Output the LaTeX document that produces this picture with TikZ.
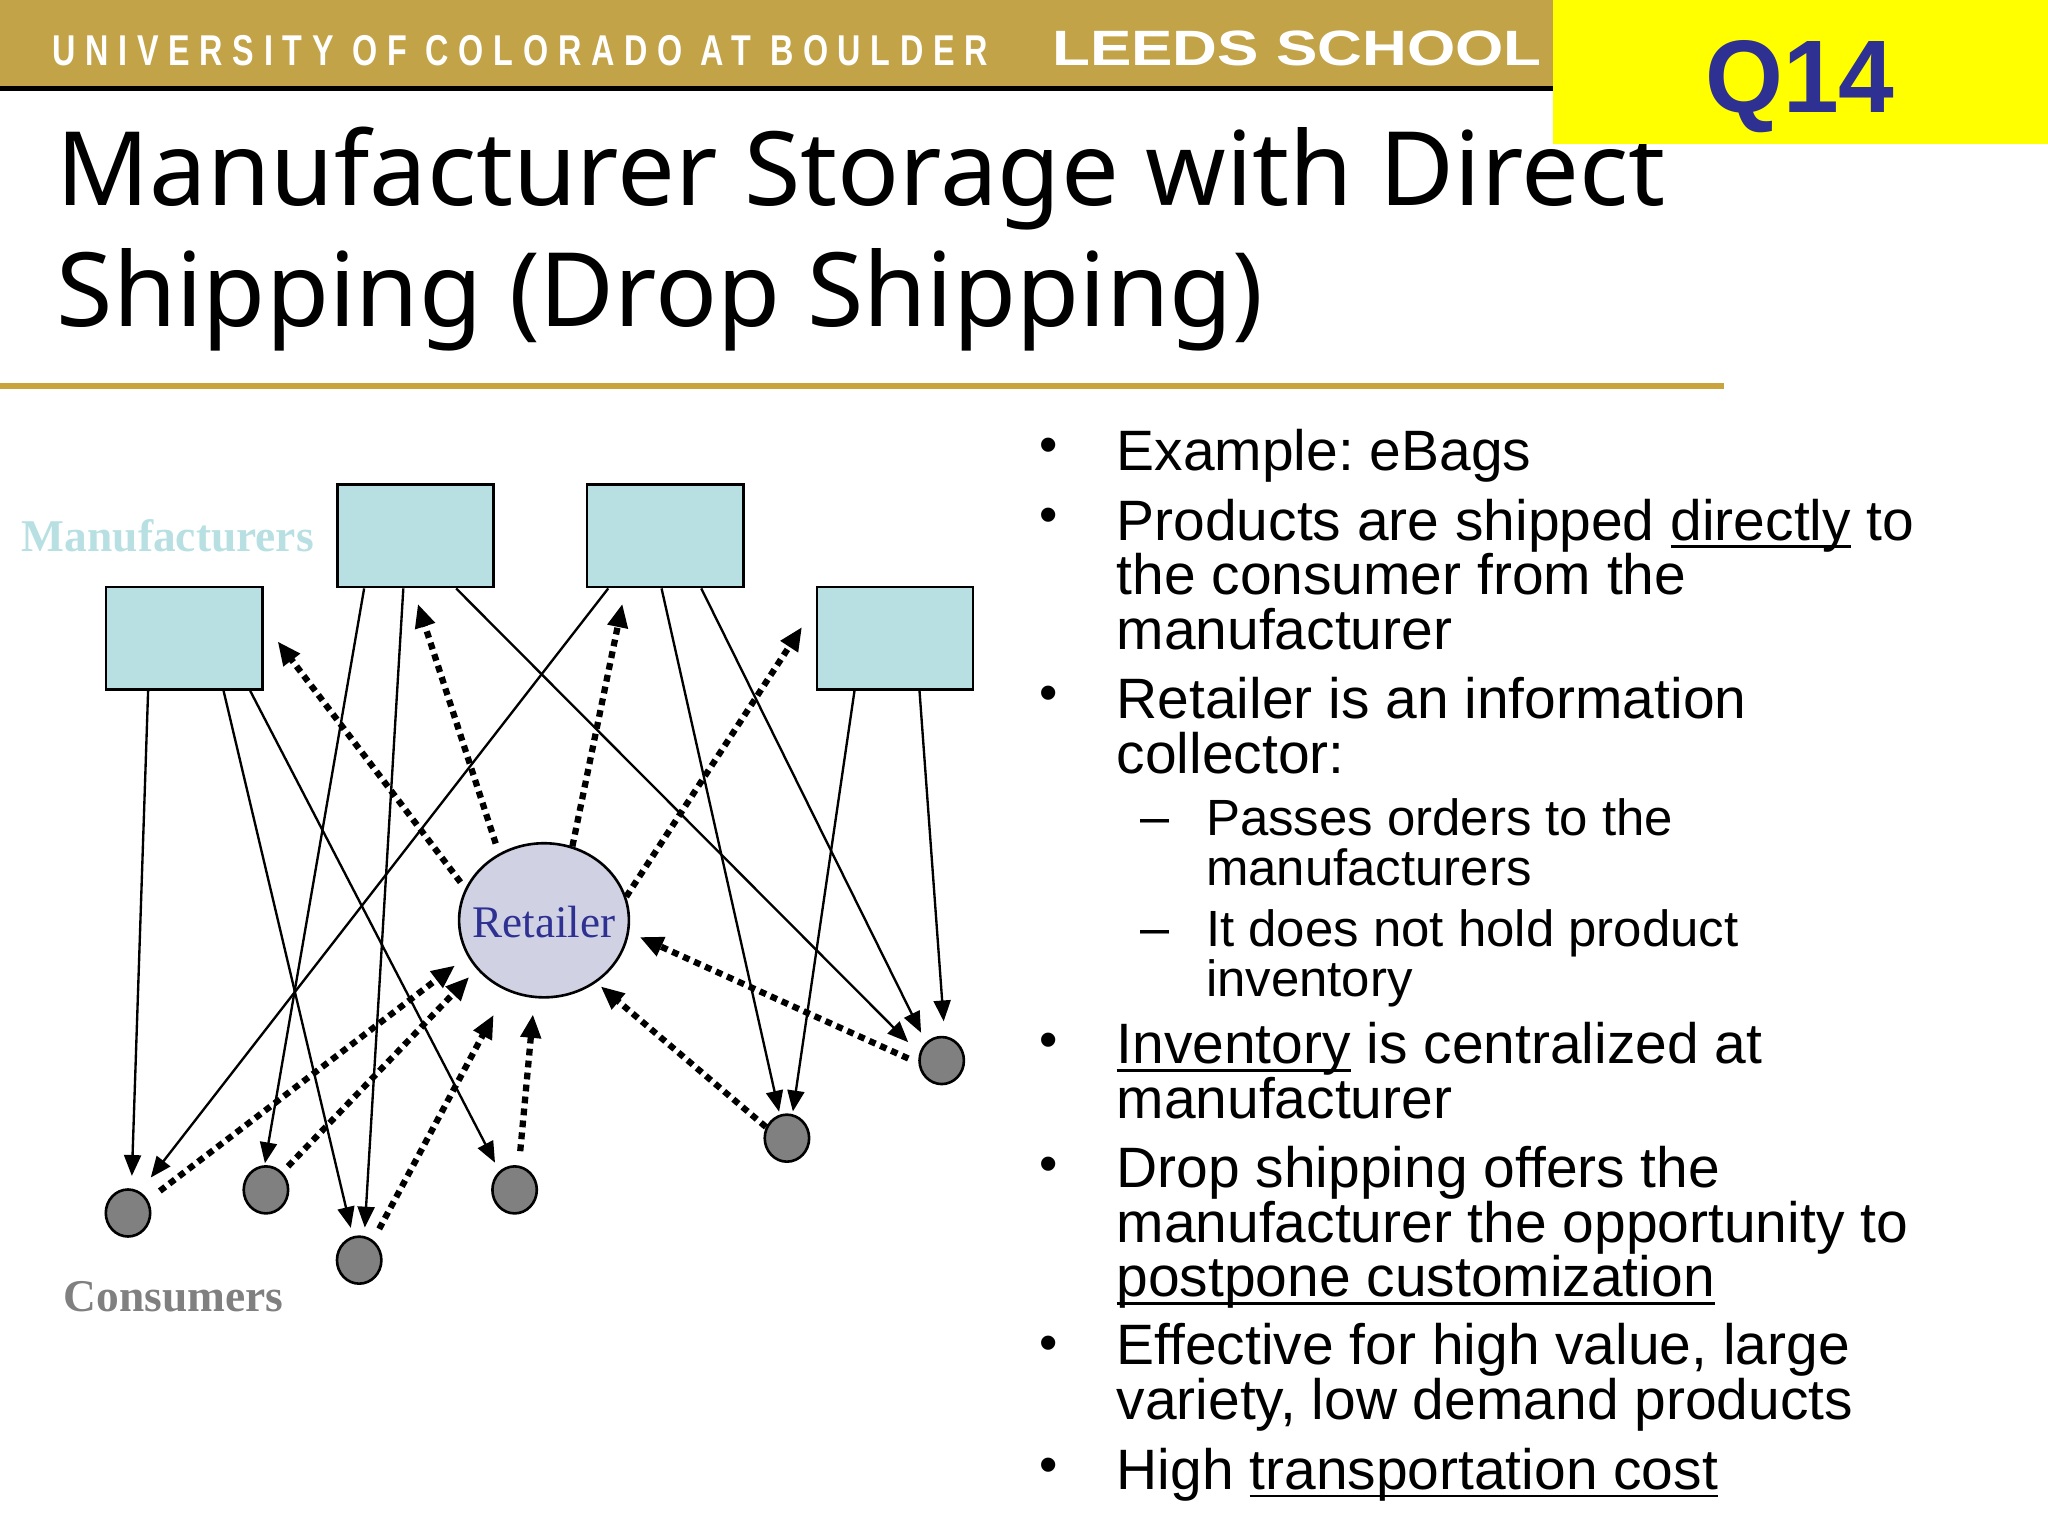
\documentclass[tikz,border=0pt]{standalone}
\usepackage{fontspec}
\setmainfont{Liberation Sans}
\newfontfamily\titlefont{Noto Sans}
\newfontfamily\labelfont{Liberation Serif}
\newfontfamily\bannerfont[LetterSpace=30]{Liberation Sans}
\usetikzlibrary{positioning, shapes.geometric, arrows.meta}
\frenchspacing

\definecolor{gold}{HTML}{C2A348}
\definecolor{rulegold}{HTML}{C9A43C}
\definecolor{mfrblue}{HTML}{B8E0E2}
\definecolor{retfill}{HTML}{D0D2E4}
\definecolor{inkblue}{HTML}{2E3192}
\definecolor{consgrey}{HTML}{808080}
\definecolor{tagyellow}{HTML}{FFFF00}

\newcommand{\ulword}[1]{\setbox0\hbox{#1}\rlap{\rule[-3pt]{\wd0}{1pt}}\box0\relax}
\newcommand{\bstrut}{\rule{0pt}{17pt}}
\newcommand{\cstrut}{\rule{0pt}{15pt}}

\tikzset{
	mfr/.style={draw, fill=mfrblue, line width=1pt, inner sep=0pt, minimum width=59.8pt, minimum height=39.3pt},
	cons/.style={draw, fill=consgrey, ellipse, line width=1pt, inner sep=0pt, minimum width=17pt, minimum height=18pt},
	flow/.style={-{Triangle[length=8pt,width=6.5pt]}, line width=0.9pt},
	info/.style={-{Triangle[length=9pt,width=7.5pt]}, line width=2.4pt, dash pattern=on 2.6pt off 2pt},
	bodytxt/.style={font=\fontsize{21.8}{21}\selectfont, align=left, anchor=north west, inner sep=0pt, execute at begin node=\bstrut},
	subtxt/.style={font=\fontsize{19.5}{19}\selectfont, align=left, anchor=north west, inner sep=0pt, execute at begin node=\cstrut},
	bulletmark/.style={font=\fontsize{20}{20}\selectfont, inner sep=0pt}
}

\begin{document}
\begin{tikzpicture}[x=0.5pt, y=-0.5pt]

	\useasboundingbox (0,0) rectangle (1568,1176);

	%% Header
	\fill[gold] (0,0) rectangle (1189,66);
	\fill[black] (0,66) rectangle (1189,70);
	\node[text=white, anchor=base west, inner sep=0pt, xscale=0.75, font=\bannerfont\bfseries\fontsize{16.5}{16}\selectfont] (univ) at (40,50) {UNIVERSITY OF COLORADO AT BOULDER};
	\node[text=white, anchor=base west, inner sep=0pt, xscale=1.25, font=\bfseries\fontsize{19}{19}\selectfont] (leeds) at (805,50) {LEEDS SCHOOL};

	%% Title
	\node[anchor=base west, inner sep=0pt, font=\titlefont\fontsize{39.3}{40}\selectfont] (title_1) at (43,157) {Manufacturer Storage with Direct};
	\node[anchor=base west, inner sep=0pt, font=\titlefont\fontsize{39.3}{40}\selectfont] (title_2) at (43,250) {Shipping (Drop Shipping)};
	\fill[rulegold] (0,293) rectangle (1320,298);

	\fill[tagyellow] (1189,0) rectangle (1568,110);
	\node[text=inkblue, inner sep=0pt, anchor=base, xscale=0.97, font=\bfseries\fontsize{39.5}{40}\selectfont] (q) at (1378,86) {Q14};

	%% Manufacturers
	\node[mfr] (m_1) at (141,488.7) {};
	\node[mfr] (m_2) at (318.2,410.2) {};
	\node[mfr] (m_3) at (509.3,410.2) {};
	\node[mfr] (m_4) at (685.2,488.7) {};
	\node[text=mfrblue, font=\labelfont\bfseries\fontsize{17.4}{17}\selectfont, inner sep=0pt] (m_lab) at (128.5,410) {Manufacturers};

	%% Retailer
	\node[draw, fill=retfill, ellipse, line width=1pt, inner sep=0pt, minimum width=65pt, minimum height=59pt, text=inkblue, font=\labelfont\fontsize{17.3}{17}\selectfont] (ret) at (416.5,704.6) {\raisebox{-6.7pt}[0pt][0pt]{\makebox[0pt]{Retailer}}};

	%% Consumers
	\node[cons] (c_1) at (98,928.7) {};
	\node[cons] (c_2) at (203.6,911) {};
	\node[cons] (c_3) at (275,964.8) {};
	\node[cons] (c_4) at (394,911) {};
	\node[cons] (c_5) at (602.5,871.4) {};
	\node[cons] (c_6) at (721,812) {};
	\node[text=consgrey, font=\labelfont\bfseries\fontsize{17.4}{17}\selectfont, inner sep=0pt] (c_lab) at (133,993) {Consumers};

	%% Product flow
	\draw[flow, shorten >=4.8pt] ([xshift=16.6pt]m_1.south west) -- (c_1.82);
	\draw[flow, shorten >=3.3pt] ([xshift=45.5pt]m_1.south west) -- (c_3.105);
	\draw[flow, shorten >=3.6pt] ([xshift=55.7pt]m_1.south west) -- (c_4.129);
	\draw[flow, shorten >=0.7pt] ([xshift=10.7pt]m_2.south west) -- (c_2.93);
	\draw[flow, shorten >=3.2pt] ([xshift=25.7pt]m_2.south west) -- (c_3.78);
	\draw[flow, shorten >=6pt] ([xshift=45.9pt]m_2.south west) -- (c_6.162);
	\draw[flow, shorten >=6.8pt] ([xshift=8.6pt]m_3.south west) -- (c_1.61);
	\draw[flow, shorten >=1.1pt] ([xshift=29pt]m_3.south west) -- (c_5.107);
	\draw[flow, shorten >=4.1pt] ([xshift=44.2pt]m_3.south west) -- (c_6.131);
	\draw[flow, shorten >=1pt] ([xshift=14.9pt]m_4.south west) -- (c_5.77);
	\draw[flow, shorten >=5.6pt] ([xshift=39.8pt]m_4.south west) -- (c_6.83);

	%% Orders
	\draw[info, shorten <=3pt, shorten >=8.9pt] (ret.158) -- (m_1.11);
	\draw[info, shorten <=4pt, shorten >=6.2pt] (ret.124) -- (m_2.-93);
	\draw[info, shorten >=6pt] (ret.69) -- (m_3.-127);
	\draw[info, shorten >=9.5pt] (ret.16) -- (m_4.158);

	\draw[info, shorten <=5.7pt, shorten >=5.9pt] (c_1.33) -- (ret.-155);
	\draw[info, shorten <=3.1pt, shorten >=4.1pt] (c_2.47) -- (ret.-144);
	\draw[info, shorten <=4.9pt, shorten >=10.4pt] (c_3.55) -- (ret.-118);
	\draw[info, shorten <=5.5pt, shorten >=6.2pt] (c_4.80) -- (ret.-97);
	\draw[info, shorten >=2.2pt] (c_5.152) -- (ret.-50);
	\draw[info, shorten <=4.2pt, shorten >=4.4pt] (c_6.-174) -- (ret.-8);

	%% Bullets
	\node[bulletmark] (b_1) at (803,345) {•};
	\node[bulletmark] (b_2) at (803,398) {•};
	\node[bulletmark] (b_3) at (803,535) {•};
	\node[bulletmark] (b_4) at (803,800) {•};
	\node[bulletmark] (b_5) at (803,895) {•};
	\node[bulletmark] (b_6) at (803,1032) {•};
	\node[bulletmark] (b_7) at (803,1126) {•};
	\node[bulletmark] (d_1) at (884,633) {–};
	\node[bulletmark] (d_2) at (884,718) {–};

	%% Text
	\node[bodytxt] (t_1) at (854.5,326) {Example: eBags};
	\node[bodytxt] (t_2) at (854.5,381.5) {Products are shipped \ulword{directly} to\\the consumer from the\\manufacturer};
	\node[bodytxt] (t_3) at (854.5,518) {Retailer is an information\\collector:};
	\node[subtxt] (s_1) at (923,611) {Passes orders to the\\manufacturers};
	\node[subtxt] (s_2) at (923,696) {It does not hold product\\inventory};
	\node[bodytxt] (t_4) at (854.5,782.5) {\ulword{Inventory} is centralized at\\manufacturer};
	\node[bodytxt] (t_5) at (854.5,877) {Drop shipping offers the\\manufacturer the opportunity to\\\ulword{postpone customization}};
	\node[bodytxt] (t_6) at (854.5,1013) {Effective for high value, large\\variety, low demand products};
	\node[bodytxt] (t_7) at (854.5,1106) {High \ulword{transportation cost}};

\end{tikzpicture}
\end{document}
